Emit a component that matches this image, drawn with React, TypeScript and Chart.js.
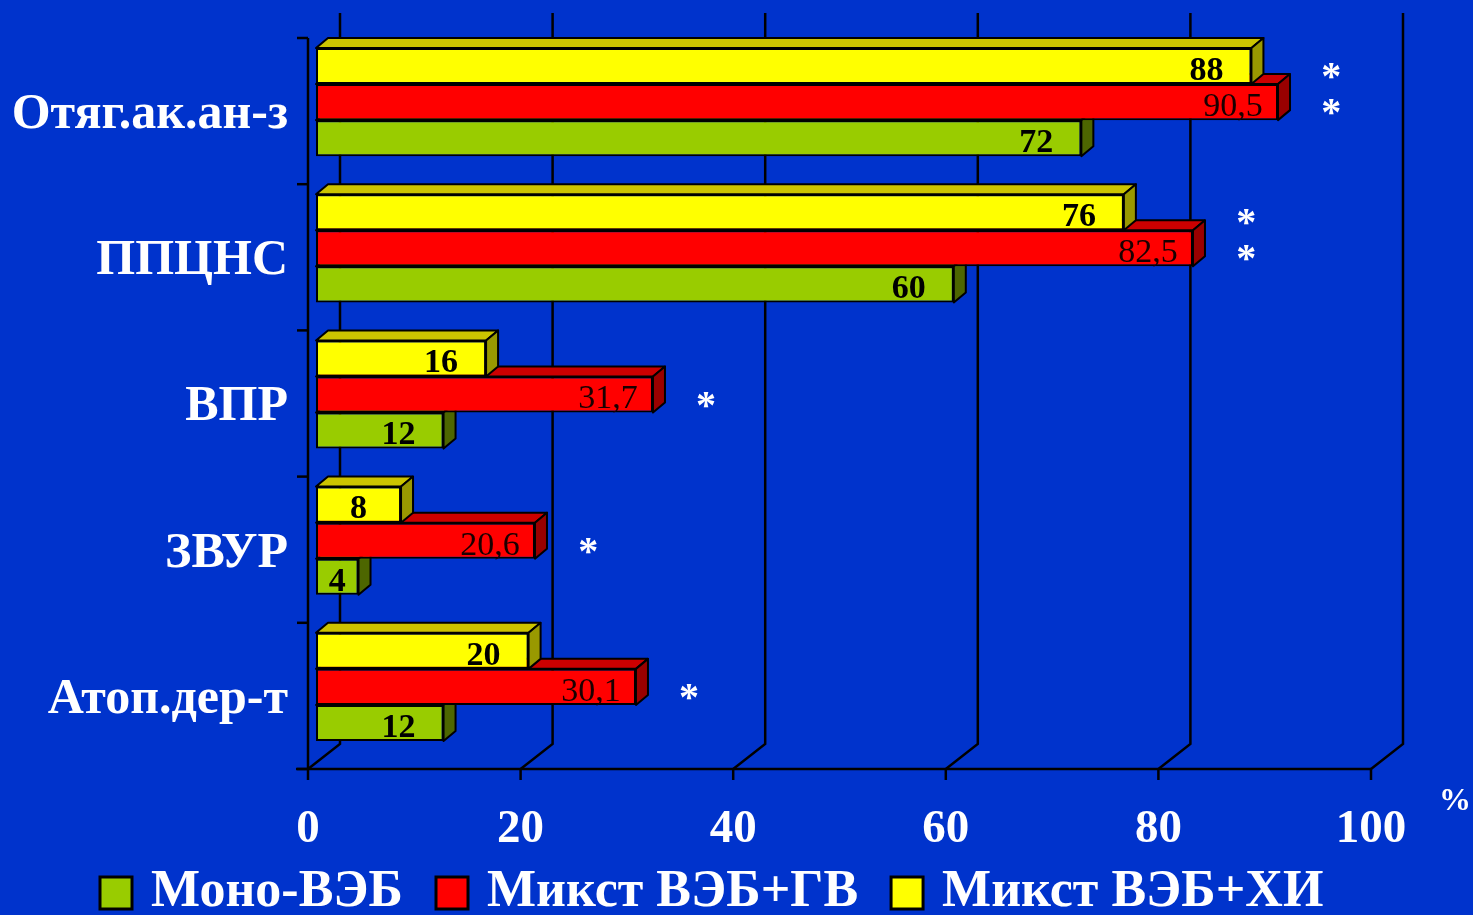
import React, { useEffect, useRef } from "react";
import { Chart, registerables } from "chart.js";

Chart.register(...registerables);

// ---- data ----
const categories = ["Отяг.ак.ан-з", "ППЦНС", "ВПР", "ЗВУР", "Атоп.дер-т"];
const monoEBV = [72, 60, 12, 4, 12];
const mixedEBVHV = [90.5, 82.5, 31.7, 20.6, 30.1];
const mixedEBVCI = [88, 76, 16, 8, 20];
const xTicks = [0, 20, 40, 60, 80, 100];
const seriesNames = ["Моно-ВЭБ", "Микст ВЭБ+ГВ", "Микст ВЭБ+ХИ"];
const axisUnit = "%";
// rows (dataset indices: 0 = ВЭБ+ХИ, 1 = ВЭБ+ГВ) that carry a significance mark "*"
const sigRows = [[0, 1], [0, 1], [1], [1], [1]];

// ---- styles ----
const BG = "#0033CC";
const FONT = "'Liberation Serif', 'Times New Roman', serif";
const DX = 12, DY = -10; // bar depth
const FX = -8, FY = 9; // front (axis) plane offset from bar plane
const BX = 24, BY = -16; // back wall offset from bar plane

const colors = {
  ci: { front: "#FFFF00", top: "#CCC400", side: "#999900" },
  hv: { front: "#FF0000", top: "#CC0000", side: "#990000" },
  mono: { front: "#99CC00", top: "#7FA300", side: "#4D6600" },
};

const fmt = (v: number) => String(v).replace(".", ",");

const threeD = {
  id: "threeD",
  beforeDatasetsDraw(chart: any) {
    const { ctx, chartArea } = chart;
    const xs = chart.scales.x;
    const ys = chart.scales.y;
    ctx.save();
    ctx.strokeStyle = "#000";
    ctx.lineWidth = 2.5;
    const top = chartArea.top, bottom = chartArea.bottom;
    xTicks.forEach((v) => {
      const p = xs.getPixelForValue(v);
      ctx.beginPath();
      ctx.moveTo(p + BX, top + BY);
      ctx.lineTo(p + BX, bottom + BY);
      ctx.lineTo(p + FX, bottom + FY);
      ctx.stroke();
      ctx.beginPath();
      ctx.moveTo(p + FX, bottom + FY);
      ctx.lineTo(p + FX, bottom + FY + 11);
      ctx.stroke();
    });
    ctx.beginPath();
    ctx.moveTo(xs.getPixelForValue(0) + FX - 12, bottom + FY);
    ctx.lineTo(xs.getPixelForValue(100) + FX, bottom + FY);
    ctx.stroke();
    const ax = xs.getPixelForValue(0) + FX;
    ctx.beginPath();
    ctx.moveTo(ax, top + FY);
    ctx.lineTo(ax, bottom + FY);
    ctx.stroke();
    const step = (bottom - top) / categories.length;
    for (let i = 0; i <= categories.length; i++) {
      const yy = top + FY + i * step;
      ctx.beginPath();
      ctx.moveTo(ax - 11, yy);
      ctx.lineTo(ax, yy);
      ctx.stroke();
    }
    ctx.fillStyle = "#fff";
    ctx.font = `bold 47px ${FONT}`;
    ctx.textAlign = "center";
    ctx.textBaseline = "middle";
    xTicks.forEach((v) => {
      ctx.fillText(String(v), xs.getPixelForValue(v) + FX, 830);
    });
    ctx.font = `bold 32px ${FONT}`;
    ctx.fillText(axisUnit, 1455, 802);
    ctx.font = `bold 50px ${FONT}`;
    ctx.textAlign = "right";
    categories.forEach((c, i) => {
      ctx.fillText(c, 288, ys.getPixelForValue(i) + FY + 4);
    });
    ctx.restore();
  },
  afterDatasetDraw(chart: any, args: any) {
    const { ctx } = chart;
    const ds: any = chart.data.datasets[args.index];
    const meta = args.meta;
    ctx.save();
    ctx.strokeStyle = "#000";
    ctx.lineWidth = 2;
    ctx.lineJoin = "round";
    meta.data.forEach((el: any) => {
      const { x, y, base, height } = el.getProps(["x", "y", "base", "height"], true);
      const t = y - height / 2, b = y + height / 2;
      ctx.beginPath();
      ctx.moveTo(base, t);
      ctx.lineTo(x, t);
      ctx.lineTo(x + DX, t + DY);
      ctx.lineTo(base + DX, t + DY);
      ctx.closePath();
      ctx.fillStyle = ds.topColor;
      ctx.fill();
      ctx.stroke();
      ctx.beginPath();
      ctx.moveTo(x, t);
      ctx.lineTo(x + DX, t + DY);
      ctx.lineTo(x + DX, b + DY);
      ctx.lineTo(x, b);
      ctx.closePath();
      ctx.fillStyle = ds.sideColor;
      ctx.fill();
      ctx.stroke();
    });
    ctx.restore();
  },
  afterDatasetsDraw(chart: any) {
    const { ctx } = chart;
    const xs = chart.scales.x;
    ctx.save();
    ctx.textAlign = "center";
    ctx.textBaseline = "middle";
    chart.data.datasets.forEach((ds: any, di: number) => {
      const meta = chart.getDatasetMeta(di);
      meta.data.forEach((el: any, i: number) => {
        const { x, y, base } = el.getProps(["x", "y", "base"], true);
        const cx = Math.max(x - 45, (base + x) / 2);
        ctx.fillStyle = di === 1 ? "#1a0000" : "#000";
        ctx.font = `${di === 1 ? "" : "bold "}34px ${FONT}`;
        ctx.fillText(fmt(ds.data[i]), cx, y + 5);
      });
    });
    ctx.fillStyle = "#fff";
    ctx.font = `bold 40px ${FONT}`;
    ctx.textBaseline = "alphabetic";
    sigRows.forEach((rows, i) => {
      const sx = xs.getPixelForValue(mixedEBVHV[i] + 5);
      rows.forEach((r) => {
        const el: any = chart.getDatasetMeta(r).data[i];
        const { y } = el.getProps(["y"], true);
        ctx.fillText("*", sx, y + 3 + 20);
      });
    });
    ctx.restore();
  },
  afterDraw(chart: any) {
    const { ctx } = chart;
    ctx.save();
    ctx.font = `bold 52px ${FONT}`;
    ctx.textBaseline = "middle";
    ctx.textAlign = "left";
    let x = 100;
    const y = 893;
    const order = [2, 1, 0];
    order.forEach((di) => {
      const ds: any = chart.data.datasets[di];
      ctx.fillStyle = ds.backgroundColor;
      ctx.strokeStyle = "#000";
      ctx.lineWidth = 3;
      ctx.fillRect(x, y - 16, 32, 32);
      ctx.strokeRect(x, y - 16, 32, 32);
      x += 51;
      ctx.fillStyle = "#fff";
      ctx.fillText(ds.label, x, y);
      x += ctx.measureText(ds.label).width + 33;
    });
    ctx.restore();
  },
};

export default function App() {
  const ref = useRef<HTMLCanvasElement>(null);
  useEffect(() => {
    document.body.style.margin = "0";
    document.body.style.background = BG;
    const mk = (label: string, data: number[], c: any) =>
      ({
        label,
        data,
        backgroundColor: c.front,
        topColor: c.top,
        sideColor: c.side,
        borderColor: "#000",
        borderWidth: 2,
        borderSkipped: false,
      } as any);
    const chart = new Chart(ref.current!, {
      type: "bar",
      data: {
        labels: categories,
        datasets: [
          mk(seriesNames[2], mixedEBVCI, colors.ci),
          mk(seriesNames[1], mixedEBVHV, colors.hv),
          mk(seriesNames[0], monoEBV, colors.mono),
        ],
      },
      options: {
        indexAxis: "y",
        responsive: false,
        animation: false,
        devicePixelRatio: 1,
        categoryPercentage: 0.74,
        barPercentage: 1,
        layout: { padding: { left: 316, right: 94, top: 29, bottom: 155 } },
        scales: {
          x: { type: "linear", min: 0, max: 100, display: false },
          y: { type: "category", display: false },
        },
        plugins: {
          legend: { display: false },
          tooltip: { enabled: false },
        },
      } as any,
      plugins: [threeD],
    });
    return () => chart.destroy();
  }, []);
  return (
    <div style={{ width: 1473, height: 915, background: BG }}>
      <canvas ref={ref} width={1473} height={915} style={{ display: "block" }} />
    </div>
  );
}
